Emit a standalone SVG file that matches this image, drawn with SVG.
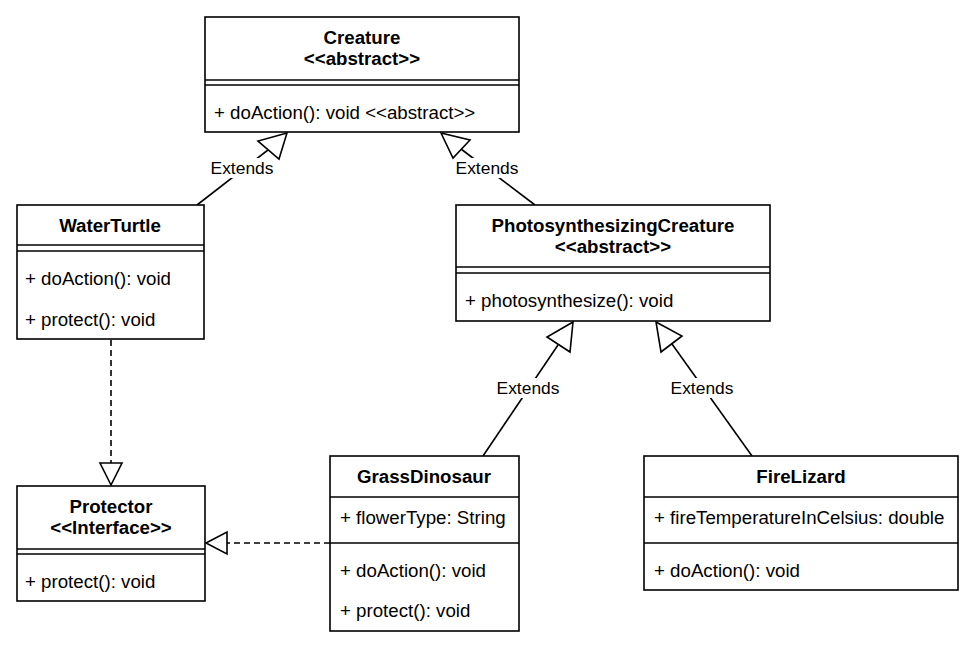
<svg xmlns="http://www.w3.org/2000/svg" width="975" height="653" viewBox="0 0 975 653">
<style>
.box{fill:#fff;stroke:#000;stroke-width:1.6}
.sep{stroke:#000;stroke-width:1.6;fill:none}
.t{font-family:"Liberation Sans",Arial,sans-serif;font-size:18.7px;fill:#000}
.b{font-weight:bold;text-anchor:middle}
.e{font-family:"Liberation Sans",Arial,sans-serif;font-size:17.4px;fill:#000;text-anchor:middle}
.ln{stroke:#000;stroke-width:1.6;fill:none}
.dash{stroke:#000;stroke-width:1.6;fill:none;stroke-dasharray:6 4}
.tri{fill:#fff;stroke:#000;stroke-width:1.6}
.lbl{fill:#fff}
</style>
<rect width="975" height="653" fill="#fff"/>
<g id="connectors">
  <line class="ln" x1="197" y1="205" x2="268" y2="150"/>
  <polygon class="tri" points="287,133 258,141 279,159"/>
  <line class="ln" x1="535" y1="205" x2="461" y2="149"/>
  <polygon class="tri" points="441,133 470,140 453,158"/>
  <line class="ln" x1="483" y1="456" x2="558" y2="345"/>
  <polygon class="tri" points="573,322 547,337 570,352"/>
  <line class="ln" x1="752" y1="456" x2="672" y2="344"/>
  <polygon class="tri" points="656,322 682,336 661,352"/>
  <line class="dash" x1="111" y1="340" x2="111" y2="463"/>
  <polygon class="tri" points="111,485 100,463 122,463"/>
  <line class="dash" x1="330" y1="543" x2="227" y2="543"/>
  <polygon class="tri" points="206,543 227,532 227,554"/>
  <rect class="lbl" x="209" y="158" width="67" height="20"/>
  <text class="e" x="242" y="174">Extends</text>
  <rect class="lbl" x="454" y="158" width="67" height="20"/>
  <text class="e" x="487" y="174">Extends</text>
  <rect class="lbl" x="495" y="378" width="67" height="20"/>
  <text class="e" x="528" y="394">Extends</text>
  <rect class="lbl" x="669" y="378" width="67" height="20"/>
  <text class="e" x="702" y="394">Extends</text>
</g>
<g id="Creature">
  <rect class="box" x="205" y="17" width="314" height="115"/>
  <line class="sep" x1="205" y1="80" x2="519" y2="80"/>
  <line class="sep" x1="205" y1="85" x2="519" y2="85"/>
  <text class="t b" x="362" y="44">Creature</text>
  <text class="t b" x="362" y="65">&lt;&lt;abstract&gt;&gt;</text>
  <text class="t" x="214" y="119">+ doAction(): void &lt;&lt;abstract&gt;&gt;</text>
</g>
<g id="WaterTurtle">
  <rect class="box" x="17" y="205" width="187" height="134"/>
  <line class="sep" x1="17" y1="245" x2="204" y2="245"/>
  <line class="sep" x1="17" y1="251" x2="204" y2="251"/>
  <text class="t b" x="110" y="232">WaterTurtle</text>
  <text class="t" x="25" y="285">+ doAction(): void</text>
  <text class="t" x="25" y="326">+ protect(): void</text>
</g>
<g id="PhotosynthesizingCreature">
  <rect class="box" x="456" y="205" width="314" height="116"/>
  <line class="sep" x1="456" y1="267" x2="770" y2="267"/>
  <line class="sep" x1="456" y1="273" x2="770" y2="273"/>
  <text class="t b" x="613" y="232">PhotosynthesizingCreature</text>
  <text class="t b" x="613" y="253">&lt;&lt;abstract&gt;&gt;</text>
  <text class="t" x="465" y="307">+ photosynthesize(): void</text>
</g>
<g id="Protector">
  <rect class="box" x="17" y="486" width="188" height="115"/>
  <line class="sep" x1="17" y1="549" x2="205" y2="549"/>
  <line class="sep" x1="17" y1="554" x2="205" y2="554"/>
  <text class="t b" x="111" y="513">Protector</text>
  <text class="t b" x="111" y="534">&lt;&lt;Interface&gt;&gt;</text>
  <text class="t" x="25" y="588">+ protect(): void</text>
</g>
<g id="GrassDinosaur">
  <rect class="box" x="330" y="456" width="189" height="175"/>
  <line class="sep" x1="330" y1="497" x2="519" y2="497"/>
  <line class="sep" x1="330" y1="543" x2="519" y2="543"/>
  <text class="t b" x="424" y="483">GrassDinosaur</text>
  <text class="t" x="340" y="524">+ flowerType: String</text>
  <text class="t" x="340" y="577">+ doAction(): void</text>
  <text class="t" x="340" y="617">+ protect(): void</text>
</g>
<g id="FireLizard">
  <rect class="box" x="644" y="456" width="314" height="134"/>
  <line class="sep" x1="644" y1="497" x2="958" y2="497"/>
  <line class="sep" x1="644" y1="543" x2="958" y2="543"/>
  <text class="t b" x="801" y="483">FireLizard</text>
  <text class="t" x="654" y="524">+ fireTemperatureInCelsius: double</text>
  <text class="t" x="654" y="577">+ doAction(): void</text>
</g>
</svg>
